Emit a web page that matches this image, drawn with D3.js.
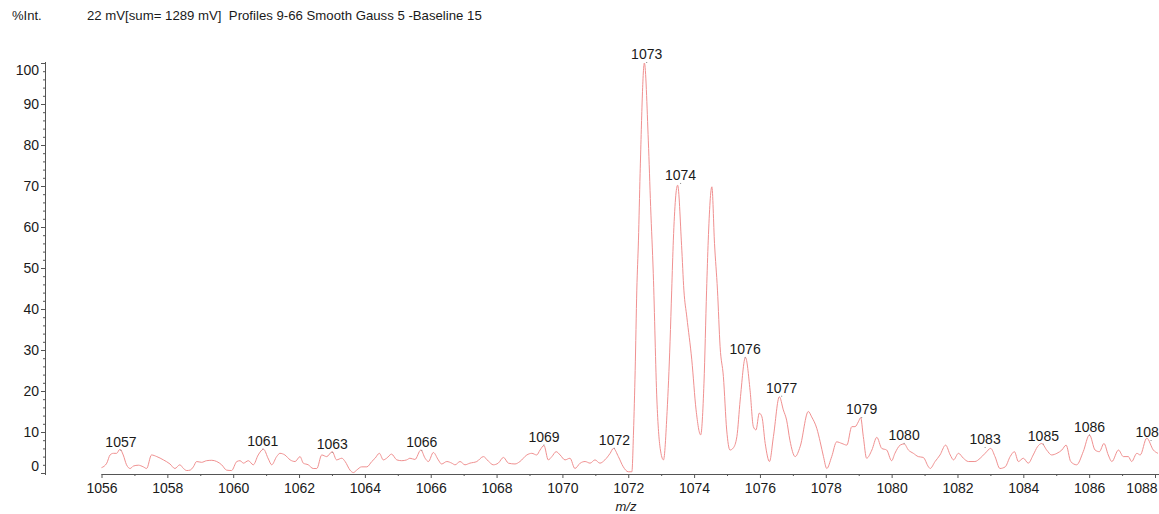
<!DOCTYPE html>
<html>
<head>
<meta charset="utf-8">
<script src="https://cdn.jsdelivr.net/npm/d3@7"></script>
<style>
  body { margin: 0; background: #fff; }
  text { font-family: "Liberation Sans", Arial, sans-serif; fill: #1a1a1a; }
</style>
</head>
<body>
<div id="chart"></div>
<script>
var width = 1159, height = 514;

// ---- DATA ---- //
var mz = [
  1056.00, 1056.16, 1056.26, 1056.36, 1056.46, 1056.56, 1056.66, 1056.76, 1056.87, 1056.97,
  1057.12, 1057.27, 1057.37, 1057.52, 1057.68, 1057.88, 1058.08, 1058.23, 1058.38, 1058.49,
  1058.59, 1058.69, 1058.79, 1058.89, 1059.04, 1059.19, 1059.35, 1059.50, 1059.65, 1059.80,
  1059.95, 1060.11, 1060.21, 1060.31, 1060.46, 1060.61, 1060.76, 1060.92, 1061.07, 1061.17,
  1061.32, 1061.42, 1061.57, 1061.73, 1061.88, 1062.03, 1062.13, 1062.28, 1062.43, 1062.54,
  1062.69, 1062.84, 1063.01, 1063.14, 1063.30, 1063.40, 1063.55, 1063.65, 1063.75, 1063.90,
  1064.06, 1064.21, 1064.31, 1064.44, 1064.56, 1064.66, 1064.81, 1064.97, 1065.12, 1065.27,
  1065.37, 1065.52, 1065.70, 1065.83, 1065.93, 1066.08, 1066.23, 1066.33, 1066.49, 1066.64,
  1066.74, 1066.89, 1067.04, 1067.19, 1067.40, 1067.60, 1067.75, 1067.90, 1068.05, 1068.21,
  1068.36, 1068.56, 1068.71, 1068.92, 1069.07, 1069.22, 1069.32, 1069.44, 1069.57, 1069.68,
  1069.81, 1069.93, 1070.08, 1070.23, 1070.38, 1070.54, 1070.69, 1070.84, 1070.99, 1071.14,
  1071.29, 1071.45, 1071.55, 1071.70, 1071.85, 1072.00, 1072.11, 1072.16, 1072.21, 1072.26,
  1072.31, 1072.36, 1072.49, 1072.61, 1072.68, 1072.76, 1072.87, 1072.97, 1073.07, 1073.18,
  1073.27, 1073.32, 1073.37, 1073.50, 1073.62, 1073.69, 1073.78, 1073.93, 1074.06, 1074.20,
  1074.30, 1074.38, 1074.43, 1074.54, 1074.62, 1074.71, 1074.79, 1074.89, 1074.99, 1075.09,
  1075.19, 1075.30, 1075.40, 1075.56, 1075.70, 1075.80, 1075.88, 1075.98, 1076.06, 1076.16,
  1076.29, 1076.41, 1076.59, 1076.71, 1076.81, 1076.91, 1077.07, 1077.22, 1077.47, 1077.57,
  1077.73, 1077.83, 1077.93, 1078.03, 1078.18, 1078.33, 1078.49, 1078.64, 1078.79, 1078.89,
  1078.99, 1079.06, 1079.14, 1079.24, 1079.40, 1079.55, 1079.70, 1079.85, 1080.00, 1080.10,
  1080.26, 1080.38, 1080.51, 1080.66, 1080.81, 1080.96, 1081.12, 1081.17, 1081.32, 1081.47,
  1081.64, 1081.78, 1081.88, 1082.03, 1082.18, 1082.33, 1082.53, 1082.69, 1082.84, 1083.01,
  1083.14, 1083.29, 1083.45, 1083.60, 1083.73, 1083.85, 1084.00, 1084.15, 1084.30, 1084.43,
  1084.56, 1084.71, 1084.86, 1085.02, 1085.17, 1085.30, 1085.44, 1085.62, 1085.82, 1086.01,
  1086.18, 1086.31, 1086.45, 1086.58, 1086.69, 1086.89, 1087.04, 1087.19, 1087.29, 1087.45,
  1087.55, 1087.75, 1087.95, 1088.09
];
var intensity = [
  1.3, 2.4, 4.4, 4.8, 4.8, 5.8, 4.4, 2.0, 1.1, 1.7,
  1.9, 1.5, 1.1, 4.4, 4.0, 3.2, 2.2, 1.1, 2.0, 1.1,
  0.6, 0.7, 1.5, 2.8, 2.6, 3.0, 3.1, 2.8, 2.0, 0.7,
  0.6, 2.8, 3.0, 2.4, 3.0, 2.0, 4.4, 5.8, 3.4, 2.0,
  4.0, 4.8, 4.4, 3.2, 2.8, 4.0, 2.4, 2.0, 1.1, 1.1,
  4.4, 4.0, 5.2, 3.2, 3.6, 2.8, 0.7, 0.1, 0.7, 1.5,
  1.5, 2.8, 3.6, 4.8, 3.2, 3.6, 4.6, 3.2, 3.0, 3.2,
  3.6, 3.3, 5.6, 3.6, 2.8, 5.0, 3.2, 2.2, 2.8, 2.4,
  2.0, 2.8, 2.0, 2.4, 2.8, 4.0, 2.9, 2.0, 2.4, 3.8,
  2.4, 2.2, 2.8, 4.4, 4.8, 4.4, 5.6, 6.7, 3.2, 4.0,
  5.2, 4.4, 3.2, 3.6, 1.1, 2.4, 2.8, 2.4, 3.2, 2.4,
  3.2, 4.8, 6.0, 4.0, 1.5, 0.3, 0.3, 10, 25, 44.6,
  56.8, 73, 100, 81, 65, 48.7, 17.8, 6.0, 3.2, 15,
  32, 44.6, 56.8, 70.2, 55.5, 44.6, 38, 27.6, 15.4, 9.3,
  21.9, 44.6, 56.8, 69.8, 56, 44.6, 30.8, 23.5, 10.5, 5.6,
  6.1, 8.9, 17.8, 28.2, 20.2, 11.3, 10.5, 14.6, 13.7, 7.2,
  2.8, 8.9, 18.6, 15.4, 12.9, 8.0, 4.0, 6.4, 15.0, 13.7,
  10.8, 7.6, 4.0, 1.1, 4.0, 7.6, 7.2, 6.8, 11.3, 11.3,
  12.5, 13.5, 8.9, 3.6, 5.6, 8.7, 6.0, 5.6, 3.0, 4.8,
  6.8, 7.1, 5.6, 4.8, 4.0, 3.8, 1.5, 1.1, 2.8, 4.4,
  6.8, 4.4, 3.2, 4.8, 3.6, 2.8, 2.8, 3.6, 4.8, 6.0,
  4.0, 1.1, 1.5, 4.0, 5.2, 2.8, 3.6, 2.4, 4.4, 6.4,
  7.2, 5.6, 4.4, 4.8, 5.6, 6.8, 2.8, 2.0, 5.2, 9.3,
  5.6, 5.2, 7.2, 4.4, 2.8, 5.6, 4.0, 4.0, 2.8, 4.8,
  4.4, 8.5, 5.6, 4.8
];

// peak annotations
var peakLabels = ["1057", "1061", "1063", "1066", "1069", "1072", "1073", "1074",
                  "1076", "1077", "1079", "1080", "1083", "1085", "1086", "1088"];
var peakMz = [1056.59, 1060.90, 1063.01, 1065.73, 1069.44, 1071.58, 1072.56, 1073.59,
              1075.55, 1076.66, 1079.09, 1080.38, 1082.84, 1084.61, 1086.01, 1087.88];
var peakInt = [5.4, 5.7, 4.9, 5.4, 6.7, 5.9, 100, 70.5,
               28.0, 18.6, 13.4, 7.1, 6.1, 6.9, 9.1, 7.8];

var yMajor = d3.range(0, 101, 10);
var yMinor = d3.range(0, 101, 2).filter(function(d) { return d % 10 !== 0; });
var xMajor = d3.range(1056, 1089, 2);
var xMinor = d3.range(1057, 1088, 2);

var data = mz.map(function(d, i) { return { mz: d, v: intensity[i] }; });

// ---- SVG ---- //
var svg = d3.select("#chart")
    .append("svg")
    .attr("width", width)
    .attr("height", height);

var x = d3.scaleLinear()
    .domain([1056, 1088])
    .range([101.5, 1155]);

var y = d3.scaleLinear()
    .domain([0, 100])
    .range([473, 63]);

// header texts
svg.append("text")
    .attr("x", 12)
    .attr("y", 20)
    .style("font-size", "13px")
    .text("%Int.");

svg.append("text")
    .attr("x", 87)
    .attr("y", 20)
    .style("font-size", "13.2px")
    .attr("xml:space", "preserve")
    .text("22 mV[sum= 1289 mV]  Profiles 9-66 Smooth Gauss 5 -Baseline 15");

// ---- Y AXIS ---- //
var yAxisG = svg.append("g")
    .attr("transform", "translate(45,0)")
    .call(d3.axisLeft(y).tickValues(yMajor).tickSize(4).tickSizeOuter(0));

yAxisG.select(".domain").remove();
yAxisG.selectAll("line").attr("stroke", "#555");
yAxisG.selectAll("text")
    .style("font-size", "14px")
    .attr("fill", "#1a1a1a")
    .attr("x", -6)
    .attr("dy", function(d) {
      if (d === 100) return "0.85em";
      if (d === 0) return "-0.2em";
      return "0.32em";
    });

yAxisG.selectAll(".minor")
    .data(yMinor)
    .enter().append("line")
    .attr("class", "minor")
    .attr("x1", -2).attr("x2", 0)
    .attr("y1", function(d) { return y(d) + 0.5; })
    .attr("y2", function(d) { return y(d) + 0.5; })
    .attr("stroke", "#555");

yAxisG.append("line")
    .attr("x1", 0.5).attr("x2", 0.5)
    .attr("y1", y(100) - 1)
    .attr("y2", y(0) + 2)
    .attr("stroke", "#555");

// ---- X AXIS ---- //
var xAxisG = svg.append("g")
    .attr("transform", "translate(0,474)")
    .call(d3.axisBottom(x).tickValues(xMajor).tickFormat(d3.format("d"))
      .tickSize(4).tickSizeOuter(0));

xAxisG.select(".domain").remove();
xAxisG.selectAll("line").attr("stroke", "#555");
xAxisG.selectAll("text")
    .style("font-size", "14px")
    .attr("fill", "#1a1a1a")
    .attr("y", 9)
    .attr("text-anchor", function(d) { return d === 1088 ? "end" : "middle"; })
    .attr("x", function(d) { return d === 1088 ? 2 : 0; });

xAxisG.selectAll(".minor")
    .data(xMinor)
    .enter().append("line")
    .attr("class", "minor")
    .attr("x1", function(d) { return x(d) + 0.5; })
    .attr("x2", function(d) { return x(d) + 0.5; })
    .attr("y1", 0).attr("y2", 2)
    .attr("stroke", "#555");

xAxisG.append("line")
    .attr("x1", x(1056))
    .attr("x2", width)
    .attr("y1", 0.5).attr("y2", 0.5)
    .attr("stroke", "#555");

svg.append("text")
    .attr("x", 626)
    .attr("y", 511)
    .attr("text-anchor", "middle")
    .style("font-size", "13px")
    .style("font-style", "italic")
    .text("m/z");

// ---- SPECTRUM ---- //
var line = d3.line()
    .x(function(d) { return x(d.mz); })
    .y(function(d) { return y(d.v); })
    .curve(d3.curveMonotoneX);

svg.append("path")
    .datum(data)
    .attr("fill", "none")
    .attr("stroke", "#f09090")
    .attr("stroke-width", 1)
    .attr("d", line);

// ---- PEAK LABELS ---- //
var peaks = svg.selectAll(".peak")
    .data(peakLabels)
    .enter().append("g")
    .attr("class", "peak");

peaks.append("rect")
    .attr("x", function(d, i) { return x(peakMz[i]) - 0.5; })
    .attr("y", function(d, i) { return y(peakInt[i]) - 1; })
    .attr("width", 1)
    .attr("height", 1)
    .attr("fill", "#888");

peaks.append("text")
    .attr("x", function(d, i) { return x(peakMz[i]); })
    .attr("y", function(d, i) { return y(peakInt[i]) - 4; })
    .attr("text-anchor", "middle")
    .style("font-size", "14px")
    .text(function(d) { return d; });
</script>
</body>
</html>
